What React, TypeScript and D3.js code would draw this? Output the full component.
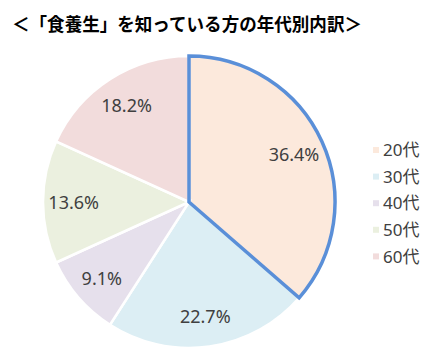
import React, { useEffect, useRef } from 'react';
import * as d3 from 'd3';

const title = '＜「食養生」を知っている方の年代別内訳＞';
const ages = ['20代', '30代', '40代', '50代', '60代'];
const shares = [36.4, 22.7, 9.1, 13.6, 18.2];
const colors = ['#FCE9DC', '#DCEEF4', '#E6E0EC', '#EBF0DF', '#F2DCDC'];

const W = 438;
const H = 353;

const App = () => {
  const svgRef = useRef<SVGSVGElement>(null);

  useEffect(() => {
    const svg = d3.select(svgRef.current);
    svg.selectAll('*').remove();

    const cx = 189, cy = 202, r = 146;
    const font = '"Noto Sans CJK JP", "Noto Sans", sans-serif';
    const numFont = '"Noto Sans", "Noto Sans CJK JP", sans-serif';

    svg.append('text')
      .attr('x', 12)
      .attr('y', 31)
      .attr('font-family', font)
      .attr('font-weight', 'bold')
      .attr('font-size', 18.5)
      .attr('textLength', 350)
      .attr('lengthAdjust', 'spacingAndGlyphs')
      .attr('fill', '#000')
      .text(title);

    const pie = d3.pie<number>().sort(null).value(d => d);
    const arcs = pie(shares);
    const arc = d3.arc<d3.PieArcDatum<number>>().innerRadius(0).outerRadius(r);
    const labelArc = d3.arc<d3.PieArcDatum<number>>().innerRadius(r * 0.79).outerRadius(r * 0.79);

    const g = svg.append('g').attr('transform', `translate(${cx},${cy})`);

    g.selectAll('path.slice')
      .data(arcs)
      .join('path')
      .attr('class', 'slice')
      .attr('d', arc)
      .attr('fill', (d, i) => colors[i])
      .attr('stroke', '#fff')
      .attr('stroke-width', 2.5);

    // highlighted 20代 slice
    g.append('path')
      .attr('d', arc(arcs[0]))
      .attr('fill', 'none')
      .attr('stroke', '#5A8FD8')
      .attr('stroke-width', 3.5)
      .attr('stroke-linejoin', 'miter');

    g.selectAll('text.lbl')
      .data(arcs)
      .join('text')
      .attr('class', 'lbl')
      .attr('transform', d => `translate(${labelArc.centroid(d)})`)
      .attr('text-anchor', 'middle')
      .attr('dy', '0.4em')
      .attr('font-family', numFont)
      .attr('font-size', 18)
      .attr('fill', '#404040')
      .text(d => `${d.data.toFixed(1)}%`);

    const legend = svg.append('g').attr('transform', 'translate(373,150)');
    const rows = legend.selectAll('g')
      .data(ages)
      .join('g')
      .attr('transform', (d, i) => `translate(0,${i * 26.6})`);
    rows.append('rect')
      .attr('x', 0).attr('y', -3)
      .attr('width', 6).attr('height', 6)
      .attr('fill', (d, i) => colors[i]);
    rows.append('text')
      .attr('x', 10)
      .attr('dy', '0.36em')
      .attr('font-family', numFont)
      .attr('font-size', 17)
      .attr('fill', '#404040')
      .text(d => d);
  }, []);

  return (
    <svg ref={svgRef} width={W} height={H} style={{ position: 'absolute', left: 0, top: 0 }} />
  );
};

export default App;
